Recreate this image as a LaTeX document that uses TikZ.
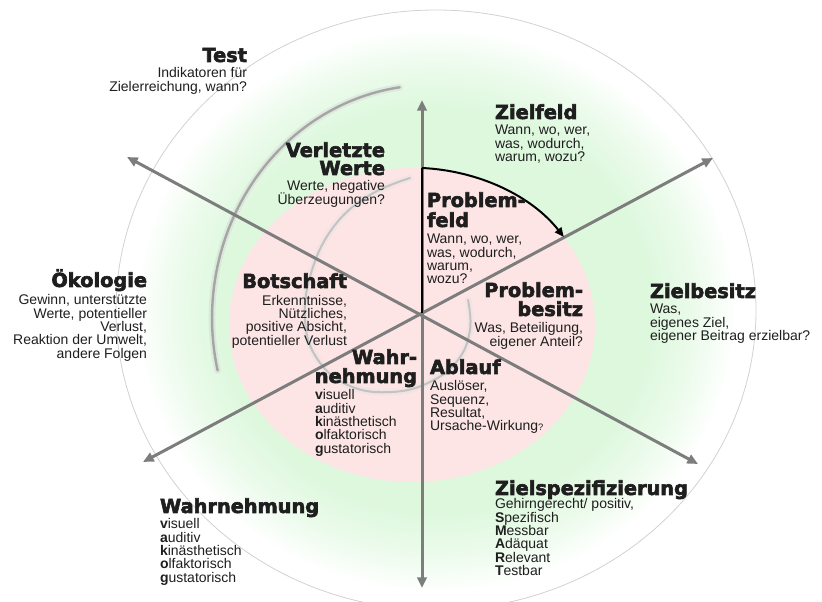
\documentclass[tikz,border=0pt]{standalone}
\usepackage{fontspec}
\setmainfont{Liberation Sans}
\newfontfamily\headfont{DejaVu Sans}[BoldFeatures={FakeBold=3}]
\usetikzlibrary{arrows.meta}

\definecolor{glowgreen}{RGB}{222,248,222}
\definecolor{rosefill}{RGB}{253,229,229}
\definecolor{axisgray}{RGB}{125,125,125}
\definecolor{bodytext}{RGB}{30,30,30}
\definecolor{spiralgray}{RGB}{165,165,165}
\definecolor{innergray}{RGB}{195,195,195}
\definecolor{rimgray}{RGB}{210,210,210}

% soft green halo that fades to white towards the rim (rim = 25bp)
\pgfdeclareradialshading{glowring}{\pgfpoint{0bp}{0bp}}{%
  color(0bp)=(glowgreen); color(17bp)=(glowgreen);
  color(20.5bp)=(glowgreen!55!white); color(23.5bp)=(white); color(50bp)=(white)}

% tight, fixed line spacing in the text blocks
\setlength{\lineskiplimit}{-50pt}
\setlength{\lineskip}{0pt}

\newcommand\hd[1]{{\headfont\bfseries\fontsize{14.5}{14}\selectfont #1}}
\newcommand\topstrut{\rule{0pt}{14pt}}

\begin{document}
\begin{tikzpicture}[x=0.75pt,y=-0.75pt,
  blk/.style={inner sep=0pt, outer sep=0pt, text=bodytext,
    font=\fontsize{10.5}{10}\selectfont},
  blkL/.style={blk, align=left, anchor=north west},
  blkR/.style={blk, align=right, anchor=north east},
  axis/.style={draw=axisgray, line width=2.25pt,
    arrows={Triangle[length=8pt,width=7pt]-Triangle[length=8pt,width=7pt]}},
  sector/.style={draw=black, line width=1.5pt},
  spiralglow/.style={draw=spiralgray!50, line width=5pt, opacity=0.4, line cap=round},
  spiralline/.style={draw=spiralgray, line width=1.8pt, line cap=round},
  innerglow/.style={draw=innergray!50, line width=5pt, opacity=0.35, line cap=round},
  innerline/.style={draw=innergray, line width=1.5pt, line cap=round},
]
\useasboundingbox (0,0) rectangle (822,602);

% key points
\coordinate (O)   at (422,313);
\coordinate (RC)  at (436,310);
\coordinate (PC)  at (412,325);
\coordinate (T)   at (422,100);
\coordinate (B)   at (422,588);
\coordinate (UL)  at (127,157);
\coordinate (LR)  at (698,464);
\coordinate (LL)  at (143,462);
\coordinate (UR)  at (713,158);
\coordinate (ftop) at (422,168);
\coordinate (sp1) at (399.7,87.3);

% outer disc with green halo
\shade[shading=glowring] (RC) ellipse[x radius=240pt, y radius=225pt];
\draw[rimgray, line width=0.6pt] (RC) ellipse[x radius=240pt, y radius=225pt];

% inner rose disc
\fill[rosefill] (PC) ellipse[x radius=137.25pt, y radius=117.75pt];

% spiral ribbons
\draw[spiralglow] (sp1) arc[start angle=98, end angle=193, x radius=163.5pt, y radius=174.75pt];
\draw[spiralline] (sp1) arc[start angle=98, end angle=193, x radius=163.5pt, y radius=174.75pt];
\draw[innerglow] plot[smooth, tension=0.7] coordinates {(468,300) (470,330) (458,360) (430,382) (392,392) (350,386) (318,360) (305,320) (312,270) (335,225) (370,195) (410,178)};
\draw[innerline] plot[smooth, tension=0.7] coordinates {(468,300) (470,330) (458,360) (430,382) (392,392) (350,386) (318,360) (305,320) (312,270) (335,225) (370,195) (410,178)};

% axes
\draw[axis] (B) -- (T);
\draw[axis] (UL) -- (LR);
\draw[axis] (LL) -- (UR);

% highlighted sector
\draw[sector] (O) -- (ftop);
\draw[sector, -{Triangle[length=7pt,width=6pt]}] (ftop) arc[start angle=86.9, end angle=34, x radius=137.25pt, y radius=117.75pt];

% labels
\node[blkR] (test) at (247,43.3) {\hd{\topstrut Test}\\[2pt] Indikatoren für\\ Zielerreichung, wann?};
\node[blkR] (werte) at (385,138.3) {\hd{\topstrut Verletzte}\\[3.5pt]\hd{Werte}\\[2pt] Werte, negative\\ Überzeugungen?};
\node[blkL] (zielfeld) at (495,100.3) {\hd{\topstrut Zielfeld}\\[2pt] Wann, wo, wer,\\ was, wodurch,\\ warum, wozu?};
\node[blkL] (problemfeld) at (427,188.3) {\hd{\topstrut Problem-}\\[5pt]\hd{feld}\\[2.75pt] Wann, wo, wer,\\ was, wodurch,\\ warum,\\ wozu?};
\node[blkR] (problembesitz) at (583,278.3) {\hd{\topstrut Problem-}\\[4.25pt]\hd{besitz}\\[2.75pt] Was, Beteiligung,\\ eigener Anteil?};
\node[blkL] (zielbesitz) at (650,279.3) {\hd{\topstrut Zielbesitz}\\[2pt] Was,\\ eigenes Ziel,\\ eigener Beitrag erzielbar?};
\node[blkR] (oekologie) at (147,268.3) {\hd{\topstrut Ökologie}\\[3.5pt] Gewinn, unterstützte\\ Werte, potentieller\\ Verlust,\\ Reaktion der Umwelt,\\ andere Folgen};
\node[blkR] (botschaft) at (347,269.3) {\hd{\topstrut Botschaft}\\[3pt] Erkenntnisse,\\ Nützliches,\\ positive Absicht,\\ potentieller Verlust};
\node[blkR] (wahrhead) at (417,345.3) {\hd{\topstrut Wahr-}\\[4.25pt]\hd{nehmung}};
\node[blkL] (wahrlist) at (315,381.3) {\topstrut\textbf{v}isuell\\ \textbf{a}uditiv\\ \textbf{k}inästhetisch\\ \textbf{o}lfaktorisch\\ \textbf{g}ustatorisch};
\node[blkL] (ablauf) at (430,355.3) {\hd{\topstrut Ablauf}\\[2.75pt] Auslöser,\\ Sequenz,\\ Resultat,\\ Ursache-Wirkung{\fontsize{7}{7}\selectfont ?}};
\node[blkL] (wahrnehmung) at (160,494.3) {\hd{\topstrut Wahrnehmung}\\[2pt] \textbf{v}isuell\\ \textbf{a}uditiv\\ \textbf{k}inästhetisch\\ \textbf{o}lfaktorisch\\ \textbf{g}ustatorisch};
\node[blkL] (zielspez) at (495,476.3) {\hd{\topstrut Zielspezifizierung}\\[0.5pt] Gehirngerecht/ positiv,\\ \textbf{S}pezifisch\\ \textbf{M}essbar\\ \textbf{A}däquat\\ \textbf{R}elevant\\ \textbf{T}estbar};
\end{tikzpicture}
\end{document}
